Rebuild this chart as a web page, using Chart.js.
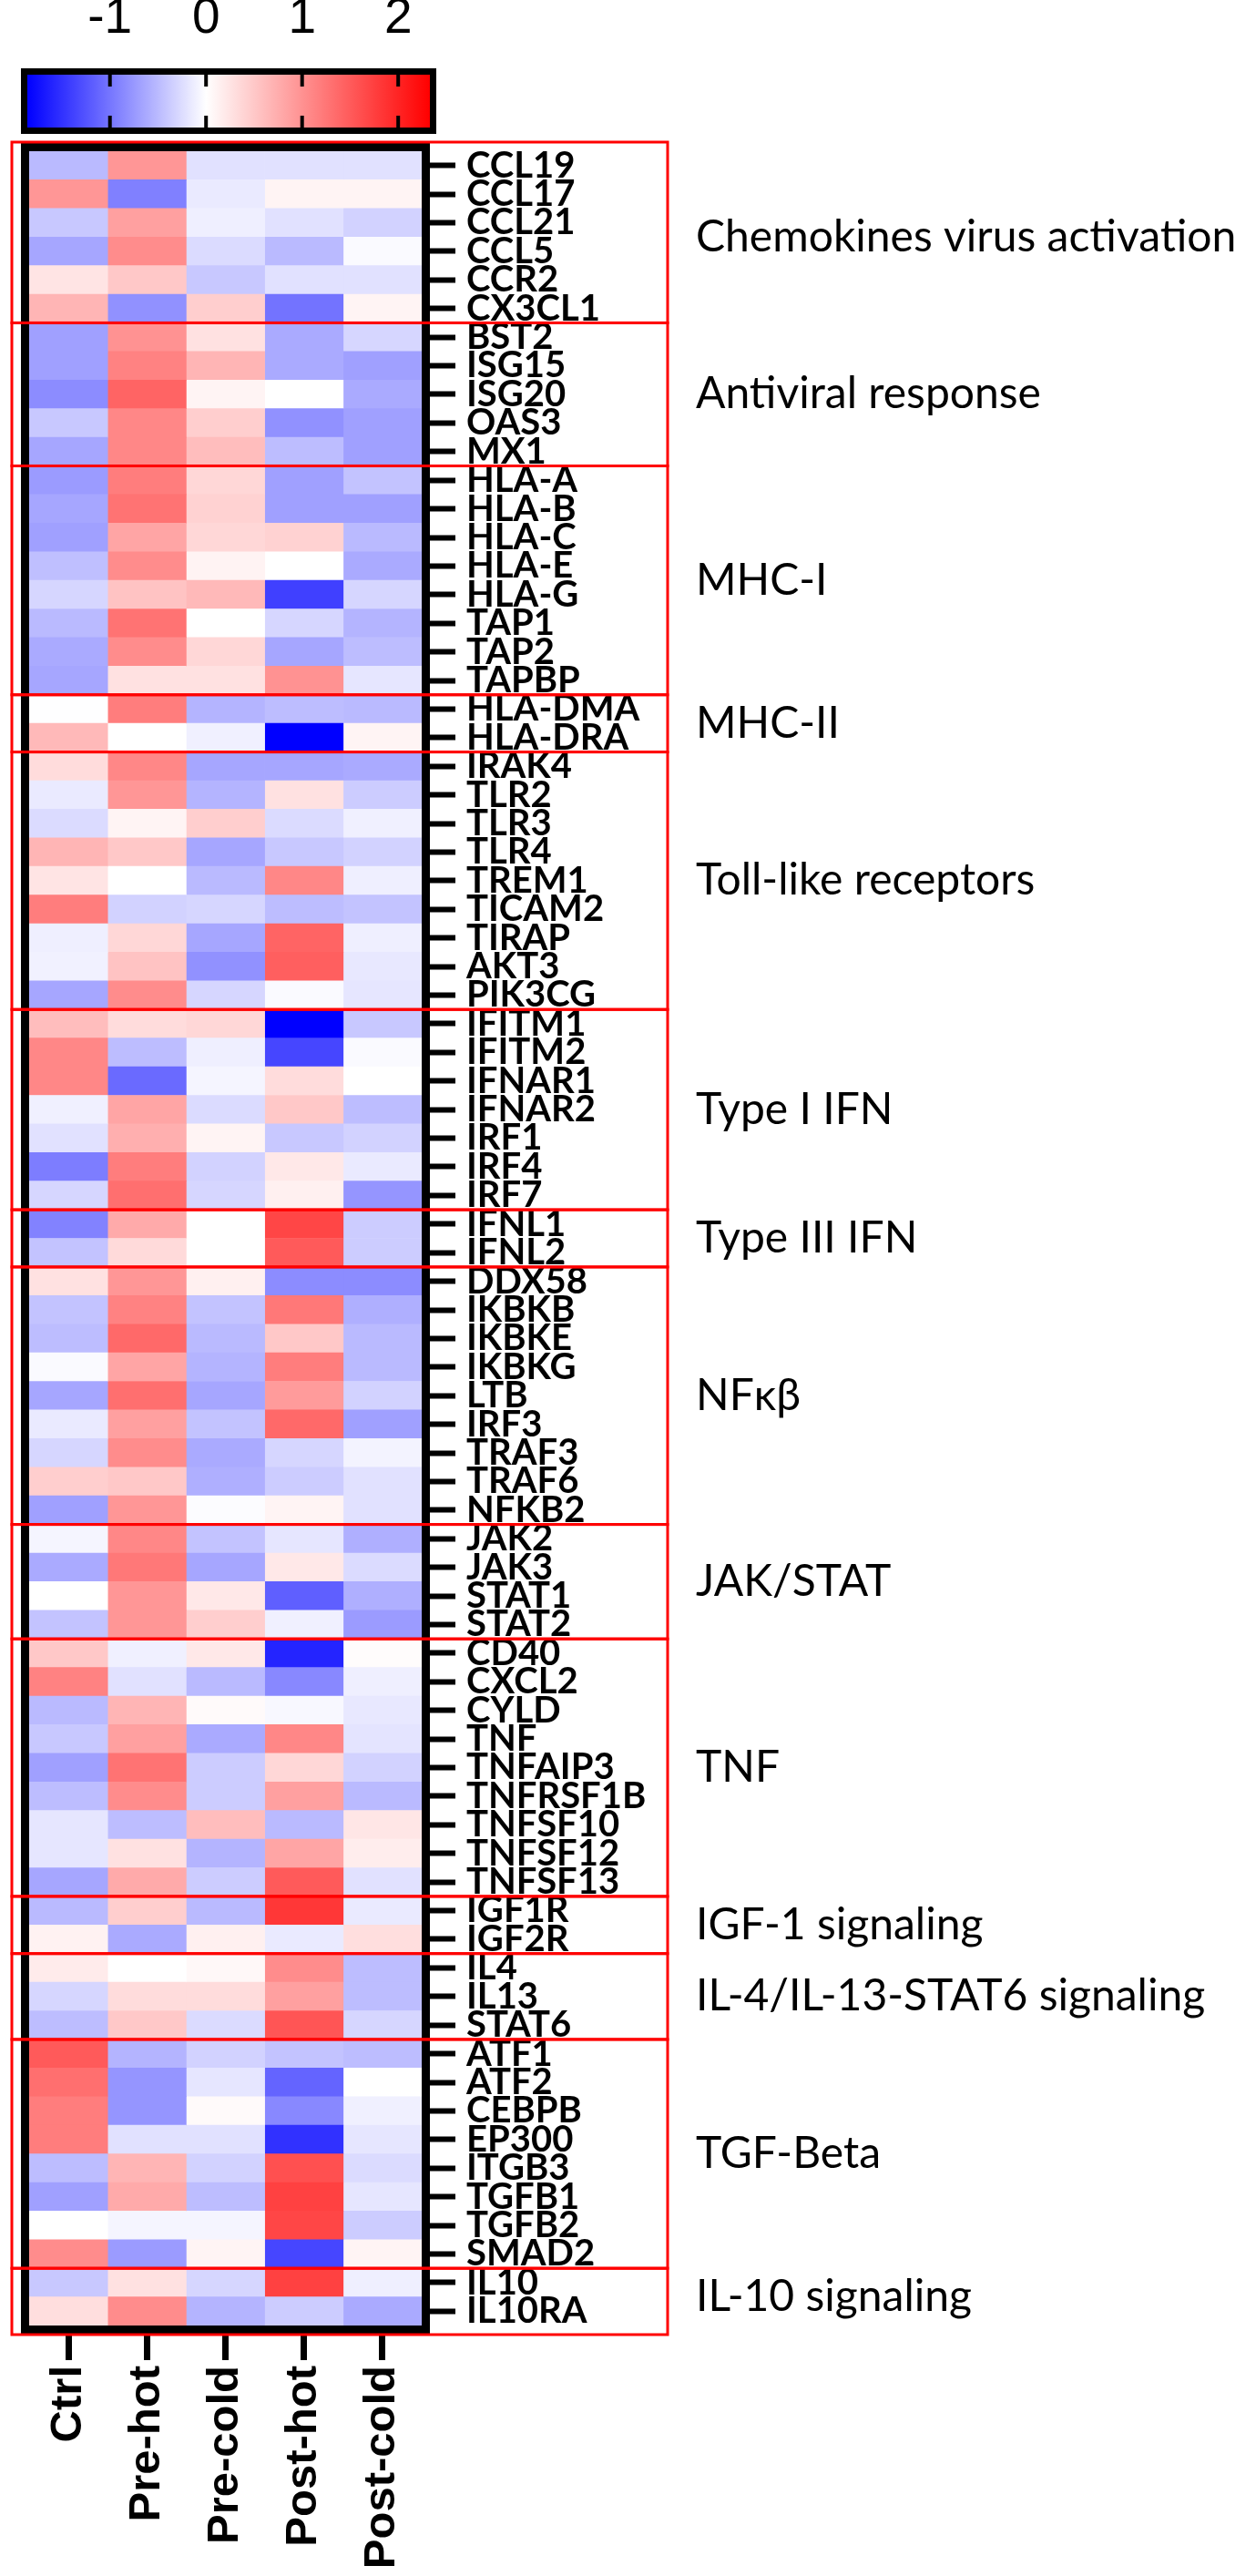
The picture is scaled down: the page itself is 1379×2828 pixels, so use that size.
<!DOCTYPE html>
<html>
<head>
<meta charset="utf-8">
<script src="https://cdn.jsdelivr.net/npm/chart.js@4.4.1/dist/chart.umd.min.js"></script>
<style>
  body { margin: 0; background: #fff; }
  #wrap { position: relative; width: 1379px; height: 2828px; }
  canvas { position: absolute; left: 0; top: 0; }
</style>
</head>
<body>
<div id="wrap">
  <canvas id="heat" width="1379" height="2828"></canvas>
  <canvas id="scalebar" width="1379" height="160"></canvas>
</div>
<script>
// columns of the heatmap
const conditions = ['Ctrl', 'Pre-hot', 'Pre-cold', 'Post-hot', 'Post-cold'];

// rows, top to bottom
const genes = [
  'CCL19', 'CCL17', 'CCL21', 'CCL5', 'CCR2', 'CX3CL1',
  'BST2', 'ISG15', 'ISG20', 'OAS3', 'MX1',
  'HLA-A', 'HLA-B', 'HLA-C', 'HLA-E', 'HLA-G', 'TAP1', 'TAP2', 'TAPBP',
  'HLA-DMA', 'HLA-DRA',
  'IRAK4', 'TLR2', 'TLR3', 'TLR4', 'TREM1', 'TICAM2', 'TIRAP', 'AKT3', 'PIK3CG',
  'IFITM1', 'IFITM2', 'IFNAR1', 'IFNAR2', 'IRF1', 'IRF4', 'IRF7',
  'IFNL1', 'IFNL2',
  'DDX58', 'IKBKB', 'IKBKE', 'IKBKG', 'LTB', 'IRF3', 'TRAF3', 'TRAF6', 'NFKB2',
  'JAK2', 'JAK3', 'STAT1', 'STAT2',
  'CD40', 'CXCL2', 'CYLD', 'TNF', 'TNFAIP3', 'TNFRSF1B', 'TNFSF10', 'TNFSF12', 'TNFSF13',
  'IGF1R', 'IGF2R',
  'IL4', 'IL13', 'STAT6',
  'ATF1', 'ATF2', 'CEBPB', 'EP300', 'ITGB3', 'TGFB1', 'TGFB2', 'SMAD2',
  'IL10', 'IL10RA'
];

const groupNames = [
  'Chemokines virus activation', 'Antiviral response', 'MHC-I', 'MHC-II',
  'Toll-like receptors', 'Type I IFN', 'Type III IFN', 'NFκβ', 'JAK/STAT',
  'TNF', 'IGF-1 signaling', 'IL-4/IL-13-STAT6 signaling', 'TGF-Beta', 'IL-10 signaling'
];
const groupSizes = [6, 5, 8, 2, 9, 7, 2, 9, 4, 9, 2, 3, 8, 2];

// z-scores per column
const ctrl = [
  -0.5, 0.96, -0.4, -0.65, 0.25, 0.68,
  -0.69, -0.69, -0.84, -0.4, -0.65,
  -0.73, -0.65, -0.69, -0.47, -0.3, -0.5, -0.62, -0.65,
  -0.01, 0.64,
  0.32, -0.15, -0.26, 0.68, 0.25, 1.19, -0.12, -0.1, -0.65,
  0.6, 1.1, 1.1, -0.11, -0.22, -0.95, -0.3,
  -0.91, -0.44,
  0.27, -0.44, -0.48, -0.04, -0.65, -0.15, -0.3, 0.45, -0.69,
  -0.07, -0.62, 0.0, -0.44,
  0.5, 1.14, -0.5, -0.4, -0.69, -0.48, -0.18, -0.18, -0.65,
  -0.5, 0.12,
  0.18, -0.3, -0.48,
  1.51, 1.32, 1.19, 1.19, -0.48, -0.69, 0.0, 1.05,
  -0.4, 0.3
];
const preHot = [
  0.96, -0.93, 0.87, 1.05, 0.5, -0.8,
  1.0, 1.14, 1.42, 1.1, 1.1,
  1.19, 1.28, 0.82, 1.05, 0.55, 1.28, 1.05, 0.27,
  1.19, 0.0,
  1.1, 0.96, 0.1, 0.5, 0.0, -0.33, 0.37, 0.55, 1.05,
  0.32, -0.48, -1.09, 0.82, 0.73, 1.19, 1.32,
  0.78, 0.34,
  0.96, 1.14, 1.37, 0.82, 1.32, 0.87, 1.05, 0.5, 0.96,
  1.1, 1.23, 0.96, 0.96,
  -0.11, -0.22, 0.68, 0.87, 1.28, 1.05, -0.48, 0.27, 0.78,
  0.45, -0.62,
  0.0, 0.32, 0.5,
  -0.55, -0.77, -0.77, -0.22, 0.68, 0.78, -0.07, -0.73,
  0.27, 1.05
];
const preCold = [
  -0.22, -0.15, -0.12, -0.26, -0.4, 0.45,
  0.27, 0.68, 0.1, 0.45, 0.6,
  0.37, 0.41, 0.37, 0.11, 0.64, 0.0, 0.37, 0.27,
  -0.55, -0.11,
  -0.65, -0.55, 0.45, -0.65, -0.5, -0.3, -0.65, -0.8, -0.3,
  0.37, -0.12, -0.07, -0.26, 0.1, -0.33, -0.3,
  0.0, 0.0,
  0.14, -0.44, -0.5, -0.55, -0.65, -0.44, -0.62, -0.58, -0.02,
  -0.44, -0.65, 0.21, 0.45,
  0.21, -0.5, 0.05, -0.62, -0.37, -0.37, 0.6, -0.55, -0.37,
  -0.5, 0.14,
  0.06, 0.32, -0.26,
  -0.33, -0.18, 0.05, -0.22, -0.33, -0.48, -0.07, 0.1,
  -0.3, -0.55
];
const postHot = [
  -0.22, 0.1, -0.22, -0.5, -0.22, -1.02,
  -0.62, -0.62, 0.0, -0.8, -0.48,
  -0.69, -0.69, 0.41, 0.0, -1.39, -0.3, -0.65, 1.0,
  -0.48, -1.86,
  -0.65, 0.27, -0.26, -0.4, 1.1, -0.48, 1.42, 1.46, -0.04,
  -1.86, -1.35, 0.32, 0.5, -0.4, 0.21, 0.14,
  1.69, 1.51,
  -0.84, 1.23, 0.5, 1.19, 0.91, 1.37, -0.3, -0.37, 0.1,
  -0.18, 0.21, -1.17, -0.11,
  -1.6, -0.87, -0.05, 1.1, 0.37, 0.87, -0.5, 0.82, 1.51,
  1.83, -0.15,
  1.05, 0.87, 1.55,
  -0.44, -1.13, -0.87, -1.5, 1.6, 1.74, 1.69, -1.35,
  1.74, -0.37
];
const postCold = [
  -0.22, 0.1, -0.33, -0.04, -0.22, 0.1,
  -0.3, -0.69, -0.62, -0.69, -0.69,
  -0.44, -0.69, -0.5, -0.62, -0.3, -0.55, -0.48, -0.18,
  -0.5, 0.1,
  -0.62, -0.37, -0.11, -0.33, -0.12, -0.44, -0.12, -0.17, -0.18,
  -0.4, -0.04, 0.0, -0.48, -0.33, -0.15, -0.77,
  -0.37, -0.37,
  -0.84, -0.58, -0.5, -0.5, -0.33, -0.69, -0.09, -0.22, -0.22,
  -0.58, -0.26, -0.58, -0.73,
  0.03, -0.12, -0.17, -0.2, -0.33, -0.5, 0.23, 0.16, -0.22,
  -0.15, 0.3,
  -0.48, -0.48, -0.3,
  -0.48, 0.0, -0.11, -0.18, -0.26, -0.18, -0.37, 0.1,
  -0.12, -0.62
];

// colour scale
const scaleMin = -1.86;
const scaleMax = 2.33;
const scaleTicks = [-1, 0, 1, 2];

const series = [ctrl, preHot, preCold, postHot, postCold];

function cellColor(v) {
  if (v < 0) {
    const t = Math.min(v / scaleMin, 1);
    const c = Math.round(255 * (1 - t));
    return 'rgb(' + c + ',' + c + ',255)';
  }
  const t = Math.min(v / scaleMax, 1);
  const c = Math.round(255 * (1 - t));
  return 'rgb(255,' + c + ',' + c + ')';
}

const geneFont = { family: "Lato, 'Open Sans', sans-serif", size: 40, weight: 'bold' };
const condFont = { family: "'Liberation Sans', Arial, sans-serif", size: 49, weight: 'bold' };

// frame, red group boxes and group captions
const groupPlugin = {
  id: 'groups',
  afterDraw(chart) {
    const ctx = chart.ctx;
    const a = chart.chartArea;
    const y = chart.scales.y;
    const pitch = y.getPixelForValue(1) - y.getPixelForValue(0);

    ctx.save();
    ctx.strokeStyle = '#000';
    ctx.lineWidth = 9;
    ctx.strokeRect(a.left - 4.5, a.top - 4.5, a.right - a.left + 9, a.bottom - a.top + 9);

    ctx.strokeStyle = '#ff0000';
    ctx.lineWidth = 3;
    ctx.font = "48px Lato, 'Open Sans', sans-serif";
    ctx.fillStyle = '#000';
    ctx.textBaseline = 'middle';
    let start = 0;
    groupSizes.forEach((n, i) => {
      let top = y.getPixelForValue(start) - pitch / 2;
      let bottom = y.getPixelForValue(start + n - 1) + pitch / 2;
      if (i === 0) top -= 10;
      if (i === groupSizes.length - 1) bottom += 10;
      ctx.strokeRect(a.left - 19, top, 720, bottom - top);
      ctx.fillText(groupNames[i], 764, (y.getPixelForValue(start) + y.getPixelForValue(start + n - 1)) / 2);
      start += n;
    });
    ctx.restore();
  }
};

new Chart(document.getElementById('heat'), {
  type: 'bar',
  data: {
    labels: genes,
    datasets: conditions.map((name, i) => ({
      label: name,
      data: genes.map(() => [i, i + 1]),
      backgroundColor: series[i].map(cellColor),
      borderWidth: 0,
      barPercentage: 1,
      categoryPercentage: 1,
      grouped: false
    }))
  },
  options: {
    indexAxis: 'y',
    responsive: false,
    animation: false,
    devicePixelRatio: 1,
    layout: { padding: { top: 166, left: 32, right: 0, bottom: 0 } },
    plugins: { legend: { display: false }, tooltip: { enabled: false } },
    scales: {
      x: {
        type: 'linear',
        position: 'bottom',
        min: 0,
        max: conditions.length,
        afterBuildTicks: (axis) => { axis.ticks = conditions.map((c, i) => ({ value: i + 0.5 })); },
        afterFit: (axis) => { axis.height = 275; },
        ticks: {
          callback: (v) => conditions[Math.floor(v)],
          autoSkip: false,
          minRotation: 90,
          maxRotation: 90,
          padding: 6,
          color: '#000',
          font: condFont
        },
        grid: { drawOnChartArea: false, tickLength: 38, tickWidth: 7, tickColor: '#000' },
        border: { display: false }
      },
      y: {
        type: 'category',
        position: 'right',
        offset: true,
        afterFit: (axis) => { axis.width = 916; },
        ticks: { autoSkip: false, padding: 12, color: '#000', font: geneFont },
        grid: { offset: false, drawOnChartArea: false, tickLength: 37, tickWidth: 6, tickColor: '#000' },
        border: { display: false }
      }
    }
  },
  plugins: [groupPlugin]
});

// colour bar: frame and inner tick marks
const barPlugin = {
  id: 'barFrame',
  afterDraw(chart) {
    const ctx = chart.ctx;
    const a = chart.chartArea;
    const x = chart.scales.x;
    ctx.save();
    ctx.strokeStyle = '#000';
    ctx.lineWidth = 4;
    scaleTicks.forEach((t) => {
      const px = x.getPixelForValue(t);
      ctx.beginPath();
      ctx.moveTo(px, a.top);
      ctx.lineTo(px, a.top + 13);
      ctx.moveTo(px, a.bottom);
      ctx.lineTo(px, a.bottom - 13);
      ctx.stroke();
    });
    ctx.lineWidth = 7;
    ctx.strokeRect(a.left - 3.5, a.top - 3.5, a.right - a.left + 7, a.bottom - a.top + 7);
    ctx.restore();
  }
};

new Chart(document.getElementById('scalebar'), {
  type: 'bar',
  data: {
    labels: ['scale'],
    datasets: [{
      data: [[scaleMin, scaleMax]],
      backgroundColor: (context) => {
        const chart = context.chart;
        if (!chart.chartArea) return '#fff';
        const x = chart.scales.x;
        const g = chart.ctx.createLinearGradient(x.getPixelForValue(scaleMin), 0, x.getPixelForValue(scaleMax), 0);
        g.addColorStop(0, 'rgb(0,0,255)');
        g.addColorStop((0 - scaleMin) / (scaleMax - scaleMin), '#ffffff');
        g.addColorStop(1, 'rgb(255,0,0)');
        return g;
      },
      borderWidth: 0,
      barPercentage: 1,
      categoryPercentage: 1
    }]
  },
  options: {
    indexAxis: 'y',
    responsive: false,
    animation: false,
    devicePixelRatio: 1,
    layout: { padding: { top: 0, left: 30, right: 907, bottom: 20 } },
    plugins: { legend: { display: false }, tooltip: { enabled: false } },
    scales: {
      x: {
        type: 'linear',
        position: 'top',
        min: scaleMin,
        max: scaleMax,
        afterBuildTicks: (axis) => { axis.ticks = scaleTicks.map((v) => ({ value: v })); },
        afterFit: (axis) => { axis.height = 82; },
        ticks: {
          padding: 28,
          color: '#000',
          font: { family: "'Liberation Sans', Arial, sans-serif", size: 55 }
        },
        grid: { display: false, drawTicks: false },
        border: { display: false }
      },
      y: { display: false }
    }
  },
  plugins: [barPlugin]
});
</script>
</body>
</html>
